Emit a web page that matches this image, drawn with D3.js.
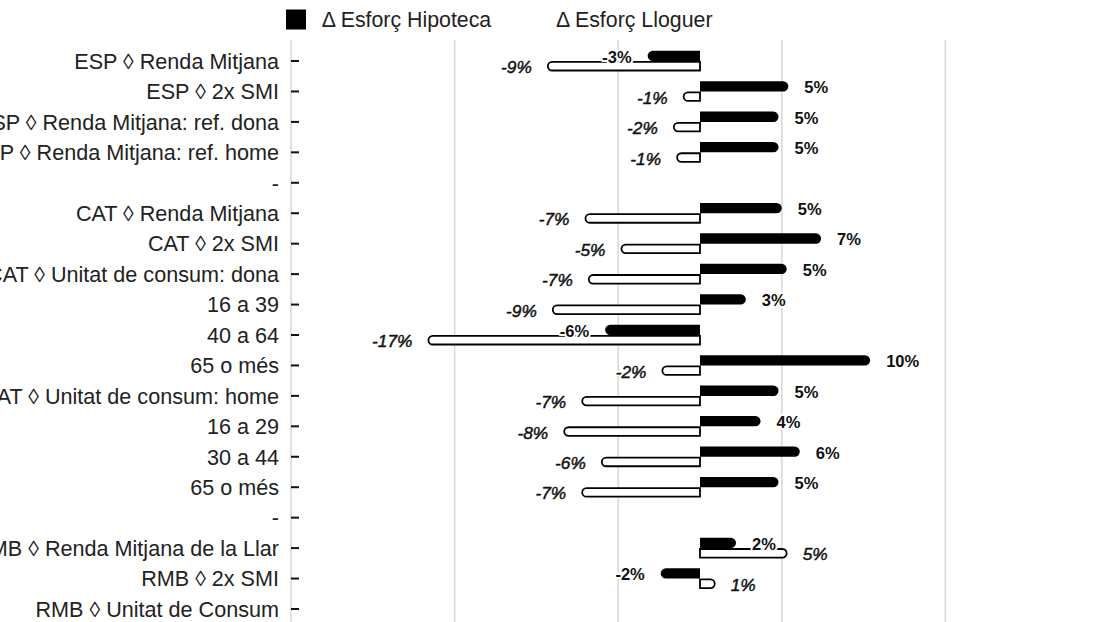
<!DOCTYPE html>
<html>
<head>
<meta charset="utf-8">
<script src="https://cdn.jsdelivr.net/npm/d3@7"></script>
<style>
  html, body { margin: 0; padding: 0; background: #fff; }
  svg { display: block; font-family: "Liberation Sans", Arial, Helvetica, sans-serif; }
</style>
</head>
<body>
<svg id="chart" width="1105" height="622"></svg>
<script>
// Row labels (top to bottom); "-" rows are spacers between groups
const categories = [
  "ESP ◊ Renda Mitjana",
  "ESP ◊ 2x SMI",
  "ESP ◊ Renda Mitjana: ref. dona",
  "ESP ◊ Renda Mitjana: ref. home",
  "-",
  "CAT ◊ Renda Mitjana",
  "CAT ◊ 2x SMI",
  "CAT ◊ Unitat de consum: dona",
  "16 a 39",
  "40 a 64",
  "65 o més",
  "CAT ◊ Unitat de consum: home",
  "16 a 29",
  "30 a 44",
  "65 o més",
  "-",
  "RMB ◊ Renda Mitjana de la Llar",
  "RMB ◊ 2x SMI",
  "RMB ◊ Unitat de Consum"
];

// Change in mortgage effort (percentage points)
const hipoteca = [-3.2, 5.4, 4.8, 4.8, null, 5.0, 7.4, 5.3, 2.8, -5.8, 10.4, 4.8, 3.7, 6.1, 4.8, null, 2.2, -2.4, null];

// Change in rent effort (percentage points)
const lloguer = [-9.3, -1.0, -1.6, -1.4, null, -7.0, -4.8, -6.8, -9.0, -16.6, -2.3, -7.2, -8.3, -6.0, -7.2, null, 5.3, 0.9, null];

const seriesNames = ["Δ Esforç Hipoteca", "Δ Esforç Lloguer"];
const gridTicks = [-25, -15, -5, 5, 15, 25];

const W = 1105, H = 622;
const FONT = '"Liberation Sans", Arial, Helvetica, sans-serif';
const svg = d3.select("#chart");

const x = d3.scaleLinear().domain([-25, 25]).range([291, 1109]);
const y = d3.scaleBand().domain(d3.range(categories.length)).range([45.8, 624.2]);
const center = i => y(i) + y.bandwidth() / 2;

// vertical gridlines
svg.append("g")
  .selectAll("line")
  .data(gridTicks)
  .join("line")
  .attr("x1", d => x(d)).attr("x2", d => x(d))
  .attr("y1", 40).attr("y2", H)
  .attr("stroke", "#d4d4d4")
  .attr("stroke-width", 1.4);

// category axis with inward ticks
const axis = d3.axisLeft(y)
  .tickSizeInner(-8)
  .tickSizeOuter(0)
  .tickPadding(12)
  .tickFormat(i => categories[i]);

const gA = svg.append("g")
  .attr("transform", `translate(${x(-25)},0)`)
  .call(axis)
  .attr("font-size", null)
  .attr("font-family", null);
gA.select(".domain").remove();
gA.selectAll(".tick line").attr("stroke", "#111").attr("stroke-width", 2);
gA.selectAll(".tick text")
  .attr("font-family", FONT)
  .attr("font-size", "21.6px")
  .attr("fill", "#222")
  .attr("dy", "0.36em");

// bar with a rounded end on the value side
function barPath(v, top, h) {
  const x0 = x(0), x1 = x(v);
  const dir = x1 >= x0 ? 1 : -1;
  const r = Math.min(h / 2, Math.abs(x1 - x0));
  const xs = x1 - dir * r;
  const sweep = dir > 0 ? 1 : 0;
  return `M${x0},${top}L${xs},${top}A${r},${h / 2} 0 0 ${sweep} ${xs},${top + h}L${x0},${top + h}Z`;
}

const rows = categories.map((c, i) => ({ i, h: hipoteca[i], l: lloguer[i] }));

// rent bars (white, outlined) below the centre line
svg.append("g")
  .selectAll("path")
  .data(rows.filter(d => d.l !== null))
  .join("path")
  .attr("d", d => barPath(d.l, center(d.i) + 0.9, 8.6))
  .attr("fill", "#fff")
  .attr("stroke", "#000")
  .attr("stroke-width", 1.8);

// mortgage bars (solid black) above the centre line
svg.append("g")
  .selectAll("path")
  .data(rows.filter(d => d.h !== null))
  .join("path")
  .attr("d", d => barPath(d.h, center(d.i) - 10.3, 10.3))
  .attr("fill", "#000");

const fmt = v => Math.round(v) + "%";
const labelX = v => v >= 0 ? x(v) + 16 : x(v) - 16;

// value labels: a white halo pass underneath, then the glyphs
const labelSpecs = [
  { key: "h", dy: -4.2, size: 16.5, weight: "bold", style: "normal", edge: 0 },
  { key: "l", dy: 6, size: 17.3, weight: "normal", style: "italic", edge: 0.45 }
];

labelSpecs.forEach(s => {
  const data = rows.filter(d => d[s.key] !== null);
  const g = svg.append("g")
    .attr("font-family", FONT)
    .attr("font-size", s.size + "px")
    .attr("font-weight", s.weight)
    .attr("font-style", s.style);
  ["halo", "ink"].forEach(layer => {
    g.append("g")
      .selectAll("text")
      .data(data)
      .join("text")
      .attr("x", d => labelX(d[s.key]))
      .attr("y", d => center(d.i) + s.dy + 0.36 * s.size)
      .attr("text-anchor", d => d[s.key] >= 0 ? "start" : "end")
      .attr("fill", layer === "halo" ? "#fff" : "#111")
      .attr("stroke", layer === "halo" ? "#fff" : "#111")
      .attr("stroke-width", layer === "halo" ? 4 : s.edge)
      .attr("stroke-linejoin", "round")
      .text(d => fmt(d[s.key]));
  });
});

// legend
const legendX = [286, 520.3];
const legendFill = ["#000", "#fff"];
const lg = svg.append("g")
  .selectAll("g")
  .data(seriesNames)
  .join("g")
  .attr("transform", (d, i) => `translate(${legendX[i]},9.5)`);
lg.append("rect")
  .attr("width", 20).attr("height", 20)
  .attr("fill", (d, i) => legendFill[i]);
lg.append("text")
  .attr("x", 35.7)
  .attr("y", 17.2)
  .attr("font-family", FONT)
  .attr("font-size", "21.33px")
  .attr("fill", "#222")
  .text(d => d);
</script>
</body>
</html>
